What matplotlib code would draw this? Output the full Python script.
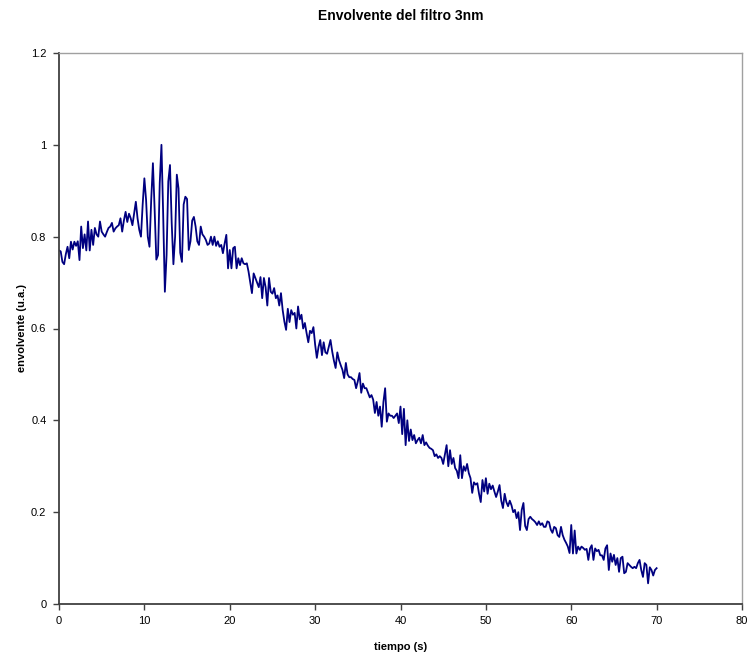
import numpy as np
import matplotlib
matplotlib.use("Agg")
import matplotlib.pyplot as plt

# time step 0.2 s, from 0 to 70 s
t_start, t_step = 0.0, 0.2
envolvente = [
    0.770, 0.768, 0.745, 0.740, 0.762, 0.778, 0.753, 0.789, 0.772, 0.789,
    0.780, 0.790, 0.749, 0.822, 0.775, 0.805, 0.770, 0.833, 0.770, 0.815,
    0.782, 0.819, 0.805, 0.800, 0.833, 0.811, 0.805, 0.800, 0.810, 0.819,
    0.822, 0.830, 0.811, 0.818, 0.822, 0.825, 0.840, 0.811, 0.835, 0.854,
    0.832, 0.850, 0.840, 0.825, 0.850, 0.876, 0.840, 0.815, 0.800, 0.870,
    0.927, 0.880, 0.800, 0.778, 0.880, 0.960, 0.860, 0.750, 0.760, 0.917,
    1.000, 0.850, 0.680, 0.760, 0.920, 0.956, 0.830, 0.740, 0.800, 0.935,
    0.905, 0.765, 0.745, 0.870, 0.887, 0.882, 0.771, 0.790, 0.835, 0.843,
    0.822, 0.790, 0.782, 0.822, 0.805, 0.800, 0.793, 0.782, 0.785, 0.800,
    0.782, 0.800, 0.780, 0.790, 0.778, 0.782, 0.764, 0.785, 0.804, 0.731,
    0.771, 0.731, 0.775, 0.778, 0.731, 0.753, 0.738, 0.753, 0.742, 0.740,
    0.742, 0.724, 0.700, 0.677, 0.720, 0.710, 0.700, 0.690, 0.712, 0.666,
    0.710, 0.690, 0.650, 0.710, 0.680, 0.676, 0.688, 0.666, 0.672, 0.650,
    0.677, 0.640, 0.615, 0.597, 0.643, 0.614, 0.640, 0.630, 0.634, 0.600,
    0.648, 0.620, 0.630, 0.600, 0.612, 0.590, 0.570, 0.595, 0.590, 0.603,
    0.565, 0.536, 0.560, 0.575, 0.542, 0.570, 0.548, 0.545, 0.560, 0.575,
    0.550, 0.530, 0.514, 0.548, 0.531, 0.520, 0.510, 0.492, 0.525, 0.500,
    0.494, 0.494, 0.490, 0.488, 0.470, 0.485, 0.503, 0.460, 0.480, 0.470,
    0.470, 0.460, 0.450, 0.455, 0.445, 0.416, 0.440, 0.410, 0.430, 0.386,
    0.440, 0.470, 0.397, 0.415, 0.410, 0.410, 0.405, 0.410, 0.415, 0.394,
    0.430, 0.370, 0.425, 0.346, 0.400, 0.355, 0.380, 0.357, 0.368, 0.350,
    0.357, 0.362, 0.350, 0.368, 0.346, 0.352, 0.345, 0.340, 0.338, 0.335,
    0.322, 0.326, 0.318, 0.322, 0.318, 0.305, 0.325, 0.346, 0.300, 0.335,
    0.305, 0.318, 0.296, 0.290, 0.274, 0.324, 0.274, 0.300, 0.290, 0.305,
    0.285, 0.274, 0.242, 0.265, 0.260, 0.263, 0.240, 0.222, 0.270, 0.245,
    0.274, 0.240, 0.262, 0.250, 0.258, 0.245, 0.233, 0.245, 0.259, 0.225,
    0.209, 0.240, 0.222, 0.213, 0.225, 0.215, 0.200, 0.205, 0.187, 0.200,
    0.161, 0.205, 0.220, 0.170, 0.161, 0.185, 0.190, 0.185, 0.182, 0.178,
    0.172, 0.180, 0.172, 0.176, 0.168, 0.168, 0.180, 0.178, 0.162, 0.155,
    0.168, 0.165, 0.150, 0.146, 0.168, 0.150, 0.140, 0.133, 0.125, 0.111,
    0.172, 0.110, 0.160, 0.110, 0.125, 0.118, 0.125, 0.122, 0.118, 0.120,
    0.096, 0.121, 0.128, 0.096, 0.121, 0.115, 0.118, 0.106, 0.106, 0.096,
    0.121, 0.128, 0.074, 0.110, 0.092, 0.107, 0.085, 0.100, 0.070, 0.100,
    0.103, 0.067, 0.070, 0.089, 0.085, 0.081, 0.078, 0.081, 0.078, 0.089,
    0.096, 0.074, 0.059, 0.089, 0.085, 0.045, 0.080, 0.074, 0.062, 0.074,
    0.078,
]
tiempo = t_start + t_step * np.arange(len(envolvente))

x_ticks = [0, 10, 20, 30, 40, 50, 60, 70, 80]
y_ticks = [0, 0.2, 0.4, 0.6, 0.8, 1.0, 1.2]
y_tick_labels = ["0", "0.2", "0.4", "0.6", "0.8", "1", "1.2"]

plt.rcParams['font.family'] = ['Liberation Sans', 'DejaVu Sans']

fig = plt.figure(figsize=(7.55, 6.55), dpi=100)
ax = fig.add_axes([59/755, 51/655, (742-59)/755, (604-53)/655])
ax.plot(tiempo, envolvente, color='#000080', linewidth=1.3)

ax.set_xlim(0, 80)
ax.set_ylim(0, 1.2)
ax.set_xticks(x_ticks)
ax.set_xticklabels([str(v) for v in x_ticks])
ax.set_yticks(y_ticks)
ax.set_yticklabels(y_tick_labels)
ax.tick_params(axis='both', direction='out', length=4, width=1, colors='#404040',
               labelsize=8, labelcolor='black', pad=5)

for s in ['left', 'bottom']:
    ax.spines[s].set_color('#404040')
    ax.spines[s].set_linewidth(1.3)
for s in ['top', 'right']:
    ax.spines[s].set_color('#a0a0a0')
    ax.spines[s].set_linewidth(1.0)

ax.set_title("Envolvente del filtro 3nm", fontsize=10, fontweight='bold', pad=24)
ax.set_xlabel("tiempo (s)", fontsize=8, fontweight='bold', labelpad=11)
ax.set_ylabel("envolvente (u.a.)", fontsize=8, fontweight='bold', labelpad=3)

fig.savefig("out.png", dpi=100)
